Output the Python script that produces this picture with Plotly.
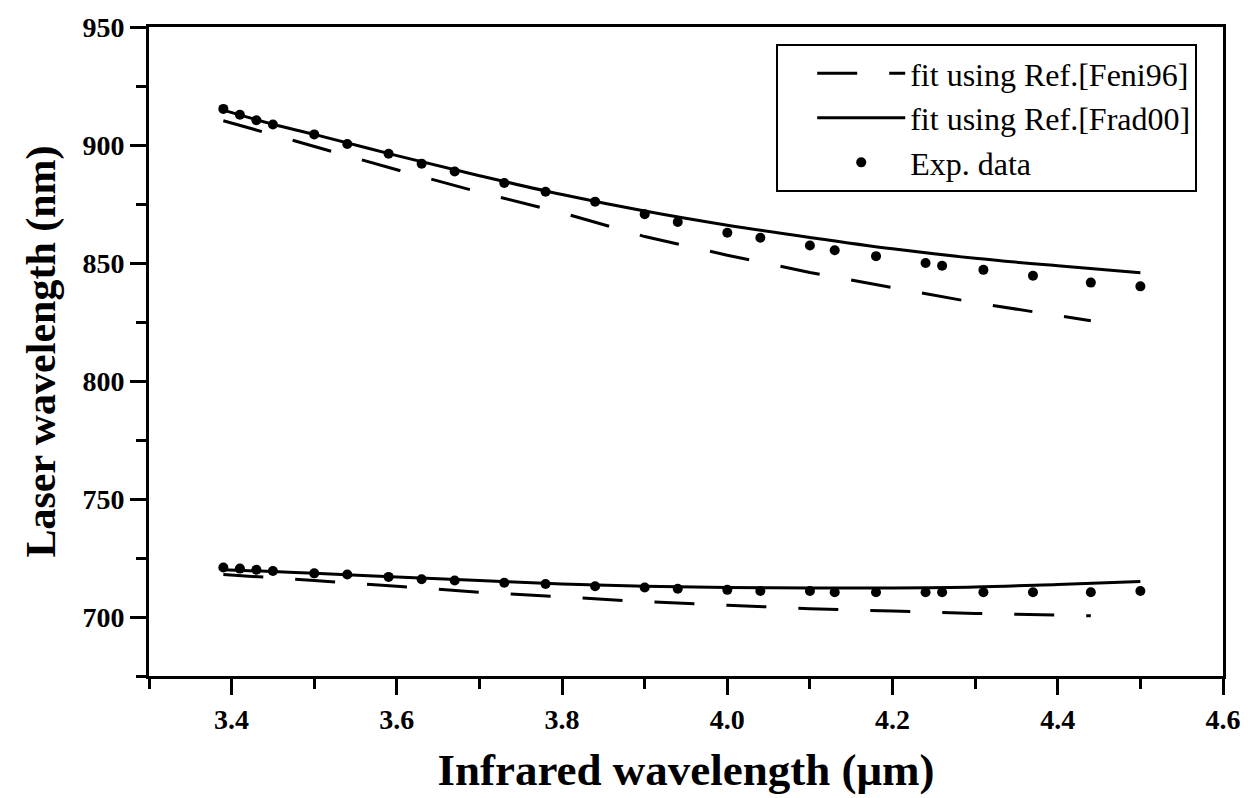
import plotly.graph_objects as go

# Experimental data (upper branch and lower branch)
ir_exp = [3.39, 3.41, 3.43, 3.45, 3.50, 3.54, 3.59, 3.63, 3.67, 3.73, 3.78, 3.84,
          3.90, 3.94, 4.00, 4.04, 4.10, 4.13, 4.18, 4.24, 4.26, 4.31, 4.37, 4.44, 4.50]
laser_exp_upper = [915.3, 912.8, 910.5, 908.7, 904.5, 900.4, 896.3, 892.1, 888.8, 883.9, 880.2, 876.0,
                   870.7, 867.4, 862.8, 860.7, 857.4, 855.4, 852.9, 850.0, 848.8, 847.1, 844.6, 841.7, 840.1]
laser_exp_lower = [721.0, 720.5, 720.0, 719.5, 718.5, 718.0, 717.0, 716.0, 715.5, 714.5, 714.0, 713.0,
                   712.5, 712.0, 711.5, 711.0, 711.0, 710.5, 710.5, 710.5, 710.5, 710.5, 710.5, 710.5, 711.0]

# Fit using Ref.[Frad00] (solid)
ir_frad = [3.39, 3.45, 3.50, 3.60, 3.70, 3.80, 3.90, 4.00, 4.10, 4.20, 4.30, 4.40, 4.50]
laser_frad_upper = [914.8, 908.8, 904.5, 895.5, 887.0, 879.0, 872.0, 866.0, 860.8, 856.0, 852.0, 848.8, 845.9]
laser_frad_lower = [720.0, 719.3, 718.5, 717.0, 715.5, 714.0, 713.0, 712.5, 712.3, 712.3, 712.7, 713.8, 715.0]

# Fit using Ref.[Feni96] (dashed)
ir_feni = [3.39, 3.45, 3.50, 3.60, 3.70, 3.80, 3.90, 4.00, 4.10, 4.20, 4.30, 4.44]
laser_feni_upper = [910.3, 904.3, 899.3, 889.5, 880.0, 871.3, 861.2, 853.3, 846.0, 839.5, 833.2, 825.5]
laser_feni_lower = [718.0, 716.8, 715.5, 713.0, 710.5, 708.5, 706.5, 705.0, 703.5, 702.5, 701.5, 700.5]

x_ticks = [3.4, 3.6, 3.8, 4.0, 4.2, 4.4, 4.6]
y_ticks = [700, 750, 800, 850, 900, 950]

FONT = "Liberation Serif"
DASH = "40px,32px"

fig = go.Figure()
fig.add_trace(go.Scatter(x=ir_feni, y=laser_feni_upper, mode="lines",
                         line=dict(color="black", width=3, dash=DASH),
                         name="fit using Ref.[Feni96]", legendgroup="feni"))
fig.add_trace(go.Scatter(x=ir_feni, y=laser_feni_lower, mode="lines",
                         line=dict(color="black", width=3, dash=DASH),
                         name="fit using Ref.[Feni96]", legendgroup="feni", showlegend=False))
fig.add_trace(go.Scatter(x=ir_frad, y=laser_frad_upper, mode="lines", line_shape="spline",
                         line=dict(color="black", width=3),
                         name="fit using Ref.[Frad00]", legendgroup="frad"))
fig.add_trace(go.Scatter(x=ir_frad, y=laser_frad_lower, mode="lines", line_shape="spline",
                         line=dict(color="black", width=3),
                         name="fit using Ref.[Frad00]", legendgroup="frad", showlegend=False))
fig.add_trace(go.Scatter(x=ir_exp, y=laser_exp_upper, mode="markers",
                         marker=dict(color="black", size=10),
                         name="Exp. data", legendgroup="exp"))
fig.add_trace(go.Scatter(x=ir_exp, y=laser_exp_lower, mode="markers",
                         marker=dict(color="black", size=10),
                         name="Exp. data", legendgroup="exp", showlegend=False))

axis_common = dict(
    showline=True, linecolor="black", linewidth=3, mirror=True,
    ticks="outside", ticklen=16, tickwidth=3, tickcolor="black",
    showgrid=False, zeroline=False,
    tickfont=dict(family=FONT, size=28, color="black", weight="bold"),
)

fig.update_xaxes(range=[3.3, 4.6], tickvals=x_ticks, ticktext=[f"{v:.1f}" for v in x_ticks],
                 minor=dict(dtick=0.1, tick0=3.3, ticks="outside", ticklen=10, tickwidth=3, tickcolor="black"),
                 title=dict(text="Infrared wavelength (μm)", standoff=20,
                            font=dict(family=FONT, size=45, color="black", weight="bold")),
                 **axis_common)
fig.update_yaxes(range=[675, 950], tickvals=y_ticks,
                 minor=dict(dtick=25, tick0=675, ticks="outside", ticklen=10, tickwidth=3, tickcolor="black"),
                 title=dict(text="Laser wavelength (nm)", standoff=14,
                            font=dict(family=FONT, size=42, color="black", weight="bold")),
                 **axis_common)

fig.update_layout(
    width=1253, height=798,
    margin=dict(l=149, r=25, t=16, b=119),
    paper_bgcolor="white", plot_bgcolor="white",
    showlegend=True,
    legend=dict(x=0.584, y=0.974, xanchor="left", yanchor="top",
                bgcolor="white", bordercolor="black", borderwidth=2,
                font=dict(family=FONT, size=32, color="black"),
                title=dict(text="\u00a0\u00a0\u00a0", side="left",
                           font=dict(family=FONT, size=32, color="black")),
                itemwidth=88, tracegroupgap=0,
                entrywidth=315, entrywidthmode="pixels"),
)

fig.write_html("out.html")
